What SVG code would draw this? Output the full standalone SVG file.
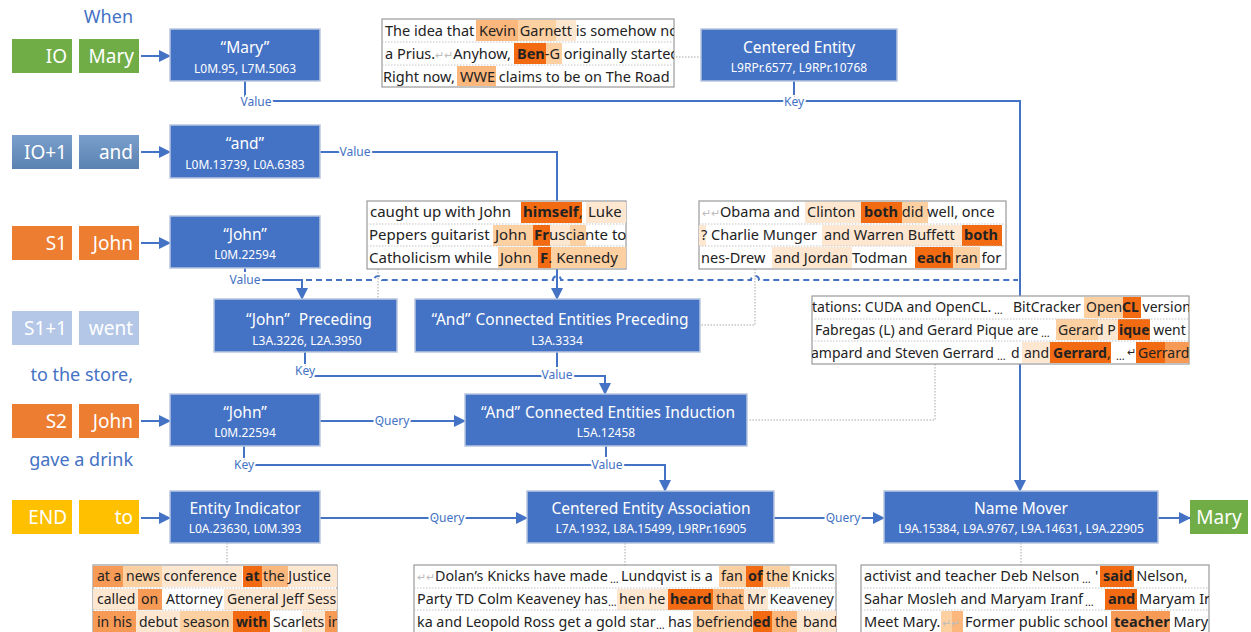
<svg xmlns="http://www.w3.org/2000/svg" width="1251" height="632" viewBox="0 0 1251 632">
<defs>
<marker id="ah" markerWidth="12" markerHeight="12" refX="11" refY="6" orient="auto" markerUnits="userSpaceOnUse">
<path d="M0,0 L12,6 L0,12 z" fill="#4472c4"/>
</marker>
<linearGradient id="steel" x1="0" y1="0" x2="0" y2="1">
<stop offset="0" stop-color="#7a9fcc"/>
<stop offset="1" stop-color="#5a82b0"/>
</linearGradient>
<clipPath id="cA"><rect x="382" y="19" width="292" height="68"/></clipPath>
<clipPath id="cB"><rect x="367" y="201" width="259" height="68"/></clipPath>
<clipPath id="cC"><rect x="699" y="201" width="307" height="68"/></clipPath>
<clipPath id="cD"><rect x="812" y="296" width="377" height="68"/></clipPath>
<clipPath id="cE"><rect x="93" y="565" width="244" height="70"/></clipPath>
<clipPath id="cF"><rect x="414" y="565" width="422" height="70"/></clipPath>
<clipPath id="cG"><rect x="861" y="565" width="348" height="70"/></clipPath>
</defs>
<style>
.nd rect{fill:#4472c4;stroke:#b8c6e0;stroke-width:1.5}
.nd text{font-family:"Noto Sans","Open Sans",sans-serif;fill:#fff;text-anchor:middle}
.t1{font-size:15.5px}
.t2{font-size:12px}
.cn{fill:none;stroke:#4472c4;stroke-width:2}
.dash{stroke-dasharray:6 4}
.ld{fill:none;stroke:#a6a6a6;stroke-width:1;stroke-dasharray:1.5 1.5}
.lbl{font-family:"Noto Sans","Open Sans",sans-serif;font-size:12px;fill:#4472c4;text-anchor:middle;stroke:#fff;stroke-width:4;paint-order:stroke}
.side{font-family:"Noto Sans","Open Sans",sans-serif;font-size:19px;fill:#fff;text-anchor:end}
.cap{font-family:"Noto Sans","Open Sans",sans-serif;font-size:18px;fill:#4472c4;text-anchor:end}
.box{fill:#fff;stroke:#9a9a9a;stroke-width:1.2}
.sep{stroke:#c4c4c4;stroke-width:1;stroke-dasharray:1.5 1.5}
.tb text{font-family:"Noto Sans","Open Sans",sans-serif;fill:#222}
.b{font-weight:bold}
.gr{fill:#bdbdbd;font-size:11px}
.el{font-size:11px}
.D{fill:#f26b12}.M{fill:#f79a55}.M2{fill:#fbb77c}.L{fill:#fdd0a2}.LL{fill:#fee7d1}
</style>

<g id="captions">
<text class="cap" x="133" y="23">When</text>
<text class="cap" x="133" y="381">to the store,</text>
<text class="cap" x="133" y="466">gave a drink</text>
</g>

<g id="tok-io">
<rect x="12" y="39" width="60" height="34" fill="#70ad47"/>
<rect x="79" y="39" width="60" height="34" fill="#70ad47"/>
<text class="side" x="67" y="63">IO</text>
<text class="side" x="134" y="63">Mary</text>
</g>
<g id="tok-io1">
<rect x="12" y="135" width="60" height="34" fill="url(#steel)"/>
<rect x="79" y="135" width="60" height="34" fill="url(#steel)"/>
<text class="side" x="67" y="159">IO+1</text>
<text class="side" x="133" y="159">and</text>
</g>
<g id="tok-s1">
<rect x="12" y="226" width="60" height="34" fill="#ed7d31"/>
<rect x="79" y="226" width="60" height="34" fill="#ed7d31"/>
<text class="side" x="67" y="250">S1</text>
<text class="side" x="133" y="250">John</text>
</g>
<g id="tok-s11">
<rect x="12" y="311" width="60" height="34" fill="#b4c7e7"/>
<rect x="79" y="311" width="60" height="34" fill="#b4c7e7"/>
<text class="side" x="67" y="335">S1+1</text>
<text class="side" x="133" y="335">went</text>
</g>
<g id="tok-s2">
<rect x="12" y="404" width="60" height="34" fill="#ed7d31"/>
<rect x="79" y="404" width="60" height="34" fill="#ed7d31"/>
<text class="side" x="67" y="428">S2</text>
<text class="side" x="133" y="428">John</text>
</g>
<g id="tok-end">
<rect x="12" y="500" width="60" height="34" fill="#ffc000"/>
<rect x="79" y="500" width="60" height="34" fill="#ffc000"/>
<text class="side" x="67" y="524">END</text>
<text class="side" x="133" y="524">to</text>
</g>
<g id="out-mary">
<rect x="1190" y="500" width="58" height="34" fill="#70ad47"/>
<text class="side" x="1219" y="524" style="text-anchor:middle">Mary</text>
</g>

<g id="connectors">
<path class="cn" d="M141,56 H170" marker-end="url(#ah)"/>
<path class="cn" d="M141,152 H170" marker-end="url(#ah)"/>
<path class="cn" d="M141,243 H170" marker-end="url(#ah)"/>
<path class="cn" d="M141,421 H170" marker-end="url(#ah)"/>
<path class="cn" d="M141,518 H170" marker-end="url(#ah)"/>
<path class="cn" d="M245,81 V101 H1020 V491" marker-end="url(#ah)"/>
<path class="cn" d="M794,81 V101"/>
<path class="cn" d="M320,152 H557 V299" marker-end="url(#ah)"/>
<path class="cn" d="M245,268 V280 H302 V299" marker-end="url(#ah)"/>
<path class="cn dash" d="M306,280 H374 a4,4 0 0 1 8,0 H553 a4,4 0 0 1 8,0 H751 a4,4 0 0 1 8,0 H1018"/>
<path class="cn" d="M305,352 V376 H605 V394" marker-end="url(#ah)"/>
<path class="cn" d="M557,352 V376"/>
<path class="cn" d="M320,421 H465" marker-end="url(#ah)"/>
<path class="cn" d="M606,446 V465 H665 V491" marker-end="url(#ah)"/>
<path class="cn" d="M244,446 V465 H606"/>
<path class="cn" d="M320,518 H527" marker-end="url(#ah)"/>
<path class="cn" d="M774,518 H884" marker-end="url(#ah)"/>
<path class="cn" d="M1158,518 H1190" marker-end="url(#ah)"/>
<path class="ld" d="M676,57 H701"/>
<path class="ld" d="M378,269 V299"/>
<path class="ld" d="M755,269 V325 H700"/>
<path class="ld" d="M935,364 V420 H747"/>
<path class="ld" d="M227,543 V565"/>
<path class="ld" d="M625,543 V565"/>
<path class="ld" d="M1021,543 V565"/>
<text class="lbl" x="256" y="106">Value</text>
<text class="lbl" x="794" y="106">Key</text>
<text class="lbl" x="355" y="156">Value</text>
<text class="lbl" x="245" y="284">Value</text>
<text class="lbl" x="305" y="375">Key</text>
<text class="lbl" x="557" y="379">Value</text>
<text class="lbl" x="392" y="425">Query</text>
<text class="lbl" x="607" y="469">Value</text>
<text class="lbl" x="244" y="469">Key</text>
<text class="lbl" x="447" y="522">Query</text>
<text class="lbl" x="843" y="522">Query</text>
</g>

<g id="n-mary" class="nd"><rect x="170" y="29" width="150" height="52"/>
<text class="t1" x="245" y="53">“Mary”</text><text class="t2" x="245" y="73">L0M.95, L7M.5063</text></g>
<g id="n-and" class="nd"><rect x="170" y="125" width="150" height="53"/>
<text class="t1" x="245" y="149">“and”</text><text class="t2" x="245" y="169">L0M.13739, L0A.6383</text></g>
<g id="n-john1" class="nd"><rect x="170" y="216" width="150" height="52"/>
<text class="t1" x="245" y="240">“John”</text><text class="t2" x="245" y="259">L0M.22594</text></g>
<g id="n-centered" class="nd"><rect x="701" y="29" width="196" height="52"/>
<text class="t1" x="799" y="53">Centered Entity</text><text class="t2" x="799" y="72">L9RPr.6577, L9RPr.10768</text></g>
<g id="n-jprec" class="nd"><rect x="214" y="299" width="183" height="53"/>
<text class="t1" x="309" y="325">“John”<tspan dx="9">Preceding</tspan></text><text class="t2" x="307" y="345">L3A.3226, L2A.3950</text></g>
<g id="n-aprec" class="nd"><rect x="415" y="299" width="285" height="53"/>
<text class="t1" x="560" y="325">“And”<tspan dx="5">Connected Entities Preceding</tspan></text><text class="t2" x="557" y="345">L3A.3334</text></g>
<g id="n-john2" class="nd"><rect x="170" y="394" width="150" height="52"/>
<text class="t1" x="245" y="418">“John”</text><text class="t2" x="245" y="437">L0M.22594</text></g>
<g id="n-induct" class="nd"><rect x="465" y="394" width="282" height="52"/>
<text class="t1" x="608" y="418">“And”<tspan dx="5">Connected Entities Induction</tspan></text><text class="t2" x="606" y="437">L5A.12458</text></g>
<g id="n-ei" class="nd"><rect x="170" y="491" width="150" height="52"/>
<text class="t1" x="245" y="514">Entity Indicator</text><text class="t2" x="245" y="533">L0A.23630, L0M.393</text></g>
<g id="n-cea" class="nd"><rect x="527" y="491" width="247" height="52"/>
<text class="t1" x="651" y="514">Centered Entity Association</text><text class="t2" x="651" y="533">L7A.1932, L8A.15499, L9RPr.16905</text></g>
<g id="n-nm" class="nd"><rect x="884" y="491" width="274" height="52"/>
<text class="t1" x="1021" y="514">Name Mover</text><text class="t2" x="1021" y="533">L9A.15384, L9A.9767, L9A.14631, L9A.22905</text></g>

<g id="tb-a" class="tb" font-size="14.5">
<rect class="box" x="382" y="19" width="292" height="68"/>
<g clip-path="url(#cA)">
<rect class="M2" x="476" y="20" width="42" height="21"/><rect class="L" x="518" y="20" width="38" height="21"/><rect class="LL" x="556" y="20" width="20" height="21"/>
<rect class="D" x="514" y="43" width="32" height="21"/><rect class="L" x="546" y="43" width="16" height="21"/>
<rect class="M2" x="457" y="66" width="39" height="20"/>
<text x="385" y="36">The idea that <tspan x="479">Kevin Garnett</tspan> is somehow not</text>
<text x="385" y="59">a Prius.<tspan class="gr">↵↵</tspan>Anyhow, <tspan x="517" class="b">Ben</tspan>-G originally started</text>
<text x="383" y="82">Right now, <tspan x="460">WWE</tspan> claims to be on The Road</text>
</g>
<line class="sep" x1="382" y1="42" x2="674" y2="42"/><line class="sep" x1="382" y1="65" x2="674" y2="65"/>
</g>

<g id="tb-b" class="tb" font-size="15">
<rect class="box" x="367" y="201" width="259" height="68"/>
<g clip-path="url(#cB)">
<rect class="D" x="521" y="202" width="61" height="21"/><rect class="LL" x="586" y="202" width="40" height="21"/>
<rect class="L" x="493" y="225" width="40" height="21"/><rect class="D" x="533" y="225" width="17" height="21"/><rect class="LL" x="550" y="225" width="20" height="21"/><rect class="L" x="570" y="225" width="16" height="21"/>
<rect class="L" x="498" y="247" width="40" height="21"/><rect class="D" x="538" y="247" width="13" height="21"/><rect class="L" x="551" y="247" width="75" height="21"/>
<text x="370" y="217">caught up with John <tspan x="523" class="b">himself</tspan>, <tspan x="588">Luke</tspan></text>
<text x="369" y="240">Peppers guitarist <tspan x="495">John </tspan><tspan x="534" class="b">Fr</tspan>usciante to</text>
<text x="369" y="263">Catholicism while <tspan x="500">John </tspan><tspan x="540" class="b">F</tspan>. Kennedy</text>
</g>
<line class="sep" x1="367" y1="224" x2="626" y2="224"/><line class="sep" x1="367" y1="246" x2="626" y2="246"/>
</g>

<g id="tb-c" class="tb" font-size="14.5">
<rect class="box" x="699" y="201" width="307" height="68"/>
<g clip-path="url(#cC)">
<rect class="LL" x="805" y="202" width="56" height="21"/><rect class="D" x="861" y="202" width="41" height="21"/><rect class="L" x="902" y="202" width="26" height="21"/>
<rect class="LL" x="699" y="225" width="7" height="21"/><rect class="LL" x="822" y="225" width="140" height="21"/><rect class="D" x="962" y="225" width="40" height="21"/>
<rect class="LL" x="772" y="247" width="80" height="21"/><rect class="D" x="915" y="247" width="38" height="21"/><rect class="L" x="953" y="247" width="27" height="21"/>
<text x="702" y="217"><tspan class="gr">↵↵</tspan>Obama and <tspan x="807">Clinton </tspan><tspan x="864" class="b">both</tspan> did well, once</text>
<text x="701" y="240">? Charlie Munger <tspan x="824">and Warren Buffett </tspan><tspan x="964" class="b">both</tspan></text>
<text x="701" y="263">nes-Drew <tspan x="774">and Jordan</tspan> Todman <tspan x="917" class="b">each</tspan> ran for</text>
</g>
<line class="sep" x1="699" y1="224" x2="1006" y2="224"/><line class="sep" x1="699" y1="246" x2="1006" y2="246"/>
</g>

<g id="tb-d" class="tb" font-size="14">
<rect class="box" x="812" y="296" width="377" height="68"/>
<g clip-path="url(#cD)">
<rect class="L" x="1084" y="297" width="39" height="21"/><rect class="D" x="1123" y="297" width="18" height="21"/>
<rect class="L" x="1056" y="319" width="42" height="21"/><rect class="LL" x="1098" y="319" width="20" height="21"/><rect class="D" x="1118" y="319" width="32" height="21"/>
<rect class="LL" x="1022" y="342" width="28" height="21"/><rect class="D" x="1050" y="342" width="61" height="21"/><rect class="D" x="1136" y="342" width="29" height="21"/><rect class="M" x="1165" y="342" width="24" height="21"/>
<text x="812" y="312">tations: CUDA and OpenCL.</text><text class="el" x="994" y="314">…</text>
<text x="1013" y="312">BitCracker <tspan x="1086">Open</tspan><tspan class="b">CL</tspan> version</text>
<text x="815" y="335">Fabregas (L) and Gerard Pique are</text><text class="el" x="1041" y="337">…</text>
<text x="1058" y="335">Gerard P<tspan x="1119" class="b">ique</tspan> went</text>
<text x="811" y="358">ampard and Steven Gerrard</text><text class="el" x="997" y="360">…</text>
<text x="1011" y="358">d<tspan x="1024">and</tspan> <tspan x="1053" class="b">Gerrard</tspan>,</text>
<text class="el" x="1116" y="360">…</text><text class="gr" x="1127" y="356">↵</text>
<text x="1138" y="358">Gerrard</text>
</g>
<line class="sep" x1="812" y1="319" x2="1189" y2="319"/><line class="sep" x1="812" y1="341" x2="1189" y2="341"/>
</g>

<g id="tb-e" class="tb" font-size="14">
<rect class="box" x="93" y="565" width="244" height="72"/>
<g clip-path="url(#cE)">
<rect class="M" x="93" y="566" width="30" height="21"/><rect class="L" x="123" y="566" width="39" height="21"/><rect class="LL" x="162" y="566" width="80" height="21"/><rect class="D" x="243" y="566" width="19" height="21"/><rect class="M2" x="262" y="566" width="26" height="21"/><rect class="LL" x="288" y="566" width="49" height="21"/>
<rect class="LL" x="93" y="589" width="45" height="21"/><rect class="M" x="138" y="589" width="24" height="21"/><rect class="LL" x="224" y="589" width="113" height="21"/>
<rect class="M" x="93" y="611" width="43" height="22"/><rect class="LL" x="136" y="611" width="44" height="22"/><rect class="L" x="180" y="611" width="53" height="22"/><rect class="D" x="233" y="611" width="37" height="22"/><rect class="LL" x="302" y="611" width="23" height="22"/><rect class="M" x="325" y="611" width="12" height="22"/>
<text x="97" y="581">at a <tspan x="126">news conference </tspan><tspan x="245" class="b">at</tspan> the Justice</text>
<text x="97" y="604">called <tspan x="141">on</tspan> <tspan x="166">Attorney</tspan> <tspan x="227">General Jeff Sessions</tspan></text>
<text x="97" y="627">in his <tspan x="139">debut</tspan> <tspan x="183">season</tspan> <tspan x="236" class="b">with</tspan> <tspan x="273">Scarlets</tspan> in</text>
</g>
<line class="sep" x1="93" y1="588" x2="337" y2="588"/><line class="sep" x1="93" y1="610" x2="337" y2="610"/>
</g>

<g id="tb-f" class="tb" font-size="14.3">
<rect class="box" x="414" y="565" width="422" height="72"/>
<g clip-path="url(#cF)">
<rect class="L" x="719" y="566" width="27" height="21"/><rect class="D" x="746" y="566" width="17" height="21"/><rect class="L" x="763" y="566" width="27" height="21"/>
<rect class="LL" x="617" y="589" width="51" height="21"/><rect class="D" x="668" y="589" width="45" height="21"/><rect class="M2" x="713" y="589" width="31" height="21"/><rect class="LL" x="744" y="589" width="24" height="21"/>
<rect class="L" x="693" y="611" width="60" height="22"/><rect class="D" x="753" y="611" width="19" height="22"/><rect class="M2" x="772" y="611" width="25" height="22"/><rect class="LL" x="797" y="611" width="39" height="22"/>
<text x="417" y="581"><tspan class="gr">↵↵</tspan>Dolan’s Knicks have made</text><text class="el" x="610" y="583">…</text>
<text x="621" y="581">Lundqvist is a <tspan x="721">fan</tspan> <tspan x="748" class="b">of</tspan> <tspan x="766">the</tspan> Knicks</text>
<text x="417" y="604">Party TD Colm Keaveney has</text><text class="el" x="608" y="606">…</text>
<text x="619" y="604">hen he <tspan x="670" class="b">heard</tspan> <tspan x="716">that</tspan> <tspan x="747">Mr</tspan> Keaveney</text>
<text x="417" y="627">ka and Leopold Ross get a gold star</text><text class="el" x="656" y="629">…</text>
<text x="668" y="627">has <tspan x="696">befriend</tspan><tspan class="b">ed</tspan> <tspan x="775">the</tspan> <tspan x="803">band</tspan></text>
</g>
<line class="sep" x1="414" y1="588" x2="836" y2="588"/><line class="sep" x1="414" y1="610" x2="836" y2="610"/>
</g>

<g id="tb-g" class="tb" font-size="14.5">
<rect class="box" x="861" y="565" width="348" height="72"/>
<g clip-path="url(#cG)">
<rect class="D" x="1100" y="566" width="34" height="21"/>
<rect class="D" x="1105" y="589" width="32" height="21"/>
<rect class="L" x="941" y="611" width="11" height="22"/><rect class="M2" x="952" y="611" width="11" height="22"/><rect class="M" x="1111" y="611" width="59" height="22"/>
<text x="864" y="581">activist and teacher Deb Nelson</text><text class="el" x="1082" y="583">…</text>
<text x="1095" y="581">'<tspan x="1103" class="b">said</tspan> Nelson,</text>
<text x="864" y="604">Sahar Mosleh and Maryam Iranf</text><text class="el" x="1085" y="606">…</text>
<text x="1108" y="604"><tspan class="b">and</tspan> Maryam Iranfar</text>
<text x="864" y="627">Meet Mary.<tspan class="gr" x="942">↵↵</tspan><tspan x="965">Former public school </tspan><tspan x="1114" class="b">teacher</tspan> Mary</text>
</g>
<line class="sep" x1="861" y1="588" x2="1209" y2="588"/><line class="sep" x1="861" y1="610" x2="1209" y2="610"/>
</g>
</svg>
